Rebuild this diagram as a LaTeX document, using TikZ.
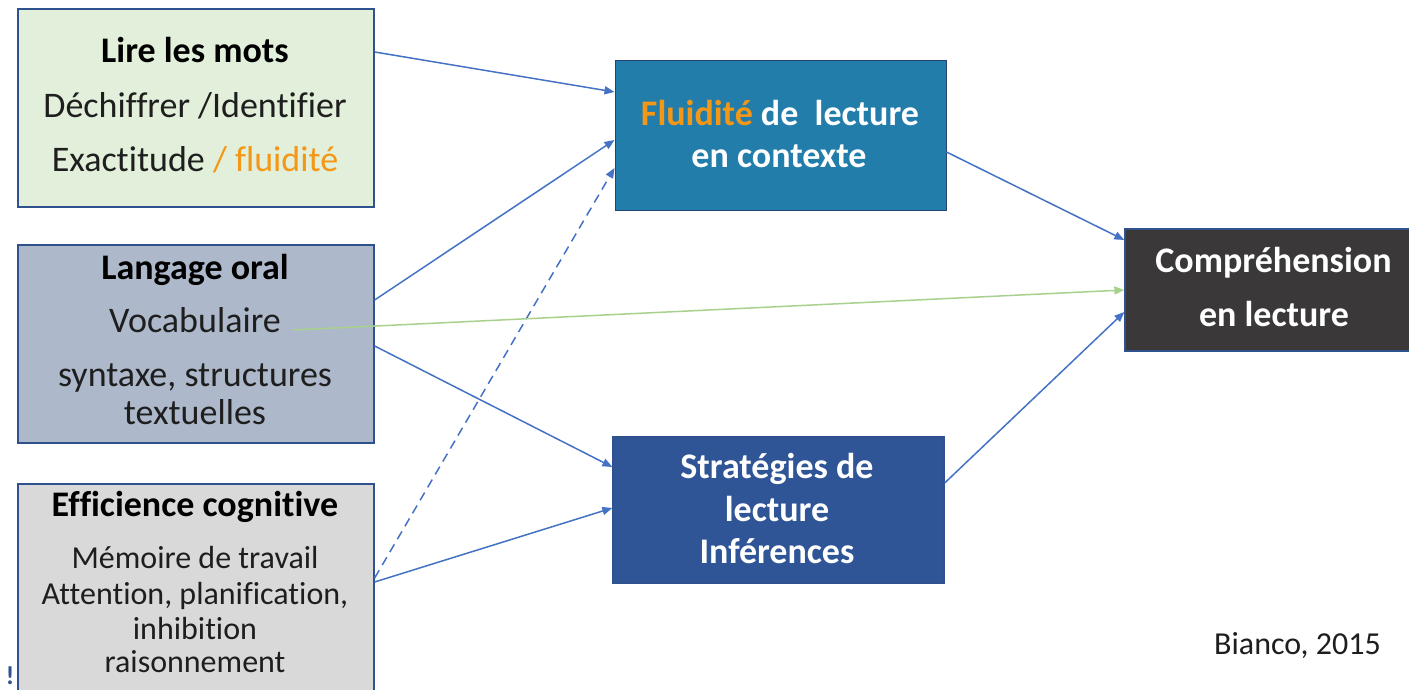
\documentclass[tikz,border=0pt]{standalone}
\usepackage{fontspec}
\setmainfont[Ligatures={NoCommon}]{Carlito}
\usetikzlibrary{arrows.meta,calc}
\definecolor{bordblue}{RGB}{47,82,143}
\definecolor{fillgreen}{RGB}{226,239,218}
\definecolor{fillblue}{RGB}{173,185,202}
\definecolor{fillgray}{RGB}{217,217,217}
\definecolor{fillflu}{RGB}{35,125,170}
\definecolor{fillstrat}{RGB}{47,85,151}
\definecolor{fillcomp}{RGB}{58,56,56}
\definecolor{arrblue}{RGB}{68,114,196}
\definecolor{arrgreen}{RGB}{169,209,142}
\definecolor{orng}{RGB}{244,151,22}
\definecolor{darktext}{RGB}{30,30,30}
\begin{document}
\begin{tikzpicture}[x=1pt,y=1pt,
  box/.style={draw=bordblue,line width=1.3pt,rectangle,inner sep=0pt},
  txt/.style={anchor=base,inner sep=0pt,font=\fontsize{36}{36}\selectfont,text=darktext},
  hd/.style={txt,font=\fontsize{36}{36}\selectfont\bfseries,text=black},
  sm/.style={txt,font=\fontsize{32}{32}\selectfont},
  wt/.style={anchor=base,inner sep=0pt,font=\fontsize{36}{36}\selectfont\bfseries,text=white},
  arr/.style={draw=arrblue,line width=1.5pt,-{Triangle[length=10pt,width=8pt]}},
  garr/.style={draw=arrgreen,line width=1.5pt,-{Triangle[length=10pt,width=8pt]}}]
\useasboundingbox (0,0) rectangle (1409,690);
\clip (0,0) rectangle (1409,690);
\fill[white] (0,0) rectangle (1409,690);

% left boxes
\node[box,fill=fillgreen,minimum width=356pt,minimum height=198pt] (b1) at (196,582) {};
\node[box,fill=fillblue,minimum width=356pt,minimum height=198pt] (b2) at (196,346) {};
\node[box,fill=fillgray,minimum width=356pt,minimum height=216pt] (b3) at (196,98) {};

% middle boxes
\node[draw=bordblue!80!black,line width=1pt,fill=fillflu,minimum width=331pt,minimum height=150pt,inner sep=0pt] (flu) at (780.5,554) {};
\node[box,fill=fillstrat,minimum width=331pt,minimum height=146pt] (strat) at (778.5,180) {};

% right box
\node[box,fill=fillcomp,minimum width=295pt,minimum height=122pt] (comp) at (1272.5,400) {};

% texts box1
\node[hd] (t1a) at (195,627) {Lire les mots};
\node[txt] (t1b) at (195,572) {Déchiffrer /Identifier};
\node[txt] (t1c) at (195,518) {Exactitude \textcolor{orng}{/ fluidité}};

% texts box2
\node[hd] (t2a) at (195,410) {Langage oral};
\node[txt] (t2b) at (195,357) {Vocabulaire};
\node[txt] (t2c) at (195,303) {syntaxe, structures};
\node[txt] (t2d) at (195,265) {textuelles};

% texts box3
\node[hd] (t3a) at (195,173) {Efficience cognitive};
\node[sm] (t3b) at (195,121) {Mémoire de travail};
\node[sm] (t3c) at (195,85) {Attention, planification,};
\node[sm] (t3d) at (195,50) {inhibition};
\node[sm] (t3e) at (195,17) {raisonnement};

% texts middle
\node[wt] (tfa) at (780,564) {\textcolor{orng}{Fluidité} de~ lecture};
\node[wt] (tfb) at (779,522) {en contexte};
\node[wt] (tsa) at (777,211) {Stratégies de};
\node[wt] (tsb) at (777,168) {lecture};
\node[wt] (tsc) at (777,126) {Inférences};

% texts right
\node[wt] (tca) at (1273.5,417) {Compréhension};
\node[wt] (tcb) at (1274,363) {en lecture};

\node[sm,text=darktext] (src) at (1297.5,35) {Bianco, 2015};
\node[anchor=base,inner sep=0pt,font=\fontsize{26}{26}\selectfont\bfseries,text=bordblue] (mark) at (10,5) {!};

% connectors
\draw[arr] ([yshift=56pt]b1.east) -- ([yshift=44pt]flu.west);
\draw[arr] ([yshift=44pt]b2.east) -- ([yshift=-4pt]flu.west);
\draw[arr,dash pattern=on 9pt off 6pt] ([yshift=14pt]b3.east) -- ([yshift=-32pt]flu.west);
\draw[arr] ([yshift=-2pt]b2.east) -- ([yshift=43pt]strat.west);
\draw[arr] ([yshift=10pt]b3.east) -- ([yshift=2pt]strat.west);
\draw[garr] ([xshift=97pt,yshift=14pt]b2.center) -- (comp.west);
\draw[arr] ([yshift=-16pt]flu.east) -- ([yshift=50pt]comp.west);
\draw[arr] ([yshift=27pt]strat.east) -- ([yshift=-22pt]comp.west);
\end{tikzpicture}
\end{document}
